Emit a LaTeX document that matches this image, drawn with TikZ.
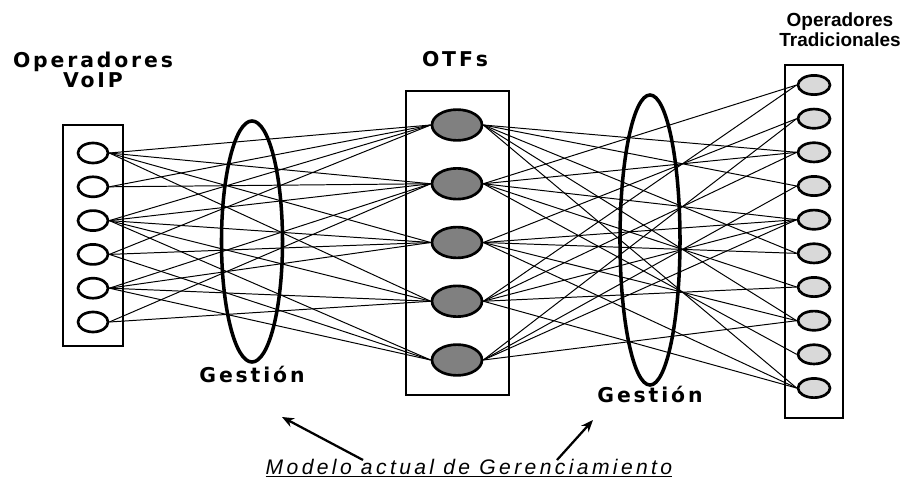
\documentclass[tikz,border=0pt]{standalone}
\usepackage{fontspec}
\setmainfont{Liberation Sans}
\newfontfamily\widebold[LetterSpace=14]{DejaVu Sans Bold}
\newfontfamily\wideital[LetterSpace=16]{Liberation Sans Italic}
\usetikzlibrary{shapes.geometric, arrows.meta}

\tikzset{
    title/.style={font=\widebold\fontsize{14.5}{14.2}\selectfont, align=center},
    box/.style={draw, line width=2pt, inner sep=0pt},
    voip/.style={ellipse, draw, line width=1.9pt, fill=white, minimum width=0.75cm, minimum height=0.5cm, inner sep=0pt},
    otf/.style={ellipse, draw, line width=1.9pt, fill=black!50, minimum width=1.25cm, minimum height=0.77cm, inner sep=0pt},
    trad/.style={ellipse, draw, line width=1.9pt, fill=black!15, minimum width=0.8cm, minimum height=0.48cm, inner sep=0pt},
    gestion/.style={ellipse, draw, line width=2.5pt, inner sep=0pt},
    link/.style={line width=0.7pt},
    pointer/.style={line width=1.6pt, -{Stealth[length=3mm, width=2.4mm]}}
}

\begin{document}
\begin{tikzpicture}[x=0.025cm, y=-0.025cm]
    \useasboundingbox (0,0) rectangle (904,487);

    % Boxes and management ellipses
    \node[box, minimum width=1.5cm, minimum height=5.525cm] (boxvoip) at (93,235.5) {};
    \node[box, minimum width=2.575cm, minimum height=7.6cm] (boxotf) at (457.5,243) {};
    \node[box, minimum width=1.45cm, minimum height=8.825cm] (boxtrad) at (814,241.5) {};
    \node[gestion, minimum width=1.525cm, minimum height=6.025cm] (gleft) at (252,241.5) {};
    \node[gestion, minimum width=1.5cm, minimum height=7.25cm] (gright) at (650,240) {};

    % Operators
    \foreach \i in {1,...,6}
        \node[voip] (v\i) at (93, {153 + 33.8*(\i-1)}) {};
    \foreach \i in {1,...,5}
        \node[otf] (o\i) at (457, {125 + 58.75*(\i-1)}) {};
    \foreach \i in {1,...,10}
        \node[trad] (t\i) at (814, {85 + 33.67*(\i-1)}) {};

    % Links VoIP - OTFs
    \foreach \a/\b in {1/1, 1/2, 1/3, 1/4, 2/1, 2/2, 3/1, 3/2, 3/3, 3/4, 3/5,
                       4/1, 4/3, 4/5, 5/2, 5/3, 5/4, 5/5, 6/2, 6/4}
        \draw[link] (v\a.east) -- (o\b.west);

    % Links OTFs - traditional operators
    \foreach \a/\b in {1/3, 1/4, 1/6, 1/8, 1/10, 2/1, 2/3, 2/5, 2/7, 2/9,
                       3/2, 3/5, 3/6, 3/8, 3/10, 4/1, 4/3, 4/5, 4/7, 4/10,
                       5/2, 5/4, 5/5, 5/8}
        \draw[link] (o\a.east) -- (t\b.west);

    % Labels
    \node[title] (tvoip) at (93,70) {Operadores\\VoIP};
    \node[title] (totf) at (455,59) {OTFs};
    \node[font=\bfseries\fontsize{13.5}{14.2}\selectfont, align=center] (ttrad) at (840,30) {Operadores\\Tradicionales};
    \node[title, anchor=base] (lgleft) at (252,382) {Gestión};
    \node[title, anchor=base] (lgright) at (650,402) {Gestión};
    \node[font=\wideital\fontsize{15}{16}\selectfont, anchor=base] (modelo) at (469,474)
        {\underline{Modelo actual de Gerenciamiento}};

    % Pointers to the management layers
    \coordinate (pl) at (282,417);
    \coordinate (pr) at (593,420);
    \coordinate (sl) at (363,460);
    \coordinate (sr) at (557,460);
    \draw[pointer] (sl) -- (pl);
    \draw[pointer] (sr) -- (pr);
\end{tikzpicture}
\end{document}
